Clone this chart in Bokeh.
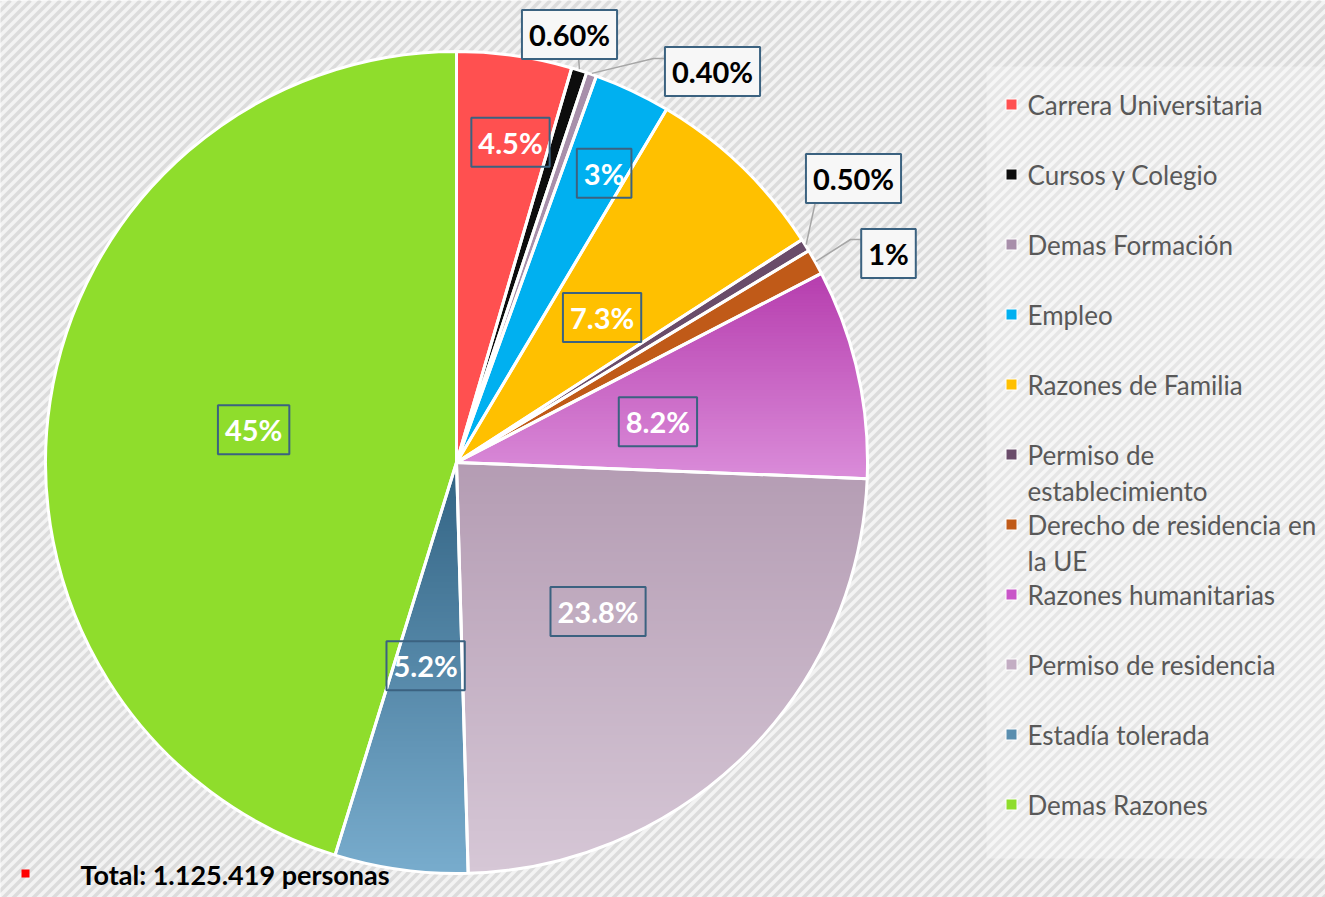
import math
from bokeh.plotting import figure
from bokeh.models import Range1d, Label
from bokeh.embed import file_html
from bokeh.resources import INLINE
from bokeh.core.properties import value

# ---------------- data ----------------
categories = ["Carrera Universitaria", "Cursos y Colegio", "Demas Formación", "Empleo",
              "Razones de Familia", "Permiso de establecimiento", "Derecho de residencia en la UE",
              "Razones humanitarias", "Permiso de residencia", "Estadía tolerada", "Demas Razones"]
legend_lines = [["Carrera Universitaria"], ["Cursos y Colegio"], ["Demas Formación"], ["Empleo"],
                ["Razones de Familia"], ["Permiso de", "establecimiento"],
                ["Derecho de residencia en", "la UE"], ["Razones humanitarias"],
                ["Permiso de residencia"], ["Estadía tolerada"], ["Demas Razones"]]
values = [4.5, 0.6, 0.4, 3.0, 7.3, 0.5, 1.0, 8.2, 23.8, 5.2, 45.0]
value_labels = ["4.5%", "0.60%", "0.40%", "3%", "7.3%", "0.50%", "1%", "8.2%", "23.8%", "5.2%", "45%"]
colors = ["#FF5050", "#0D0D0D", "#A88FAA", "#00B0F0", "#FFC000", "#6A4C6A", "#C05A18",
          "#C955C8", "#C3ADC3", "#5A8EAF", "#8FDD2C"]
# gradient (top colour, bottom colour) for the shaded slices
gradients = {7: ("#B63DAE", "#DA8CD9"), 8: ("#B49CB3", "#D6C7D6"), 9: ("#326383", "#78ACCD")}
total_text = "Total: 1.125.419 personas"

# ---------------- layout ----------------
W, H = 1325, 897
def Y(sy):  # screen y (from top) -> data y
    return H - sy

CX, CY, R = 456, Y(462), 411
label_frac = [0.79, None, None, 0.79, 0.5, None, None, 0.5, 0.5, 0.5, 0.5]
label_rot = [-0.025, 0, 0, -0.03, -0.02, 0, 0, -0.02, -0.02, -0.015, -0.01]  # small angular nudge
outside_pos = {1: (569, Y(34)), 2: (712, Y(71)), 5: (853, Y(178)), 6: (888, Y(253))}
outside_attach = {1: [(578, Y(57))], 2: [(653, Y(58)), (664, Y(58))],
                  5: [(815, Y(201))], 6: [(850, Y(239)), (861, Y(239))]}

p = figure(width=W, height=H, output_backend="svg", toolbar_location=None,
           x_range=Range1d(0, W), y_range=Range1d(0, H),
           min_border=0, border_fill_color="#f3f3f3", outline_line_color=None)
p.axis.visible = False
p.grid.visible = False
p.background_fill_color = "#f3f3f3"

# diagonal stripes background
cs = list(range(0, W + H + 10, 10))
p.segment(x0=cs, y0=[H] * len(cs), x1=[c - (W + H) for c in cs], y1=[H - (W + H)] * len(cs),
          line_color="#dcdcdc", line_width=3.5)
# lighter legend panel
p.quad(left=[986], right=[W], bottom=[Y(858)], top=[Y(66)], fill_color="white",
       fill_alpha=0.3, line_color=None)

total = sum(values)
starts, ends, mids = [], [], []
cum = 0.0
for v in values:
    a0 = math.pi / 2 - (cum + v) / total * 2 * math.pi
    a1 = math.pi / 2 - cum / total * 2 * math.pi
    starts.append(a0); ends.append(a1); mids.append((a0 + a1) / 2)
    cum += v

p.wedge(x=[CX] * len(values), y=[CY] * len(values), radius=R, start_angle=starts,
        end_angle=ends, fill_color=colors, line_color=None)

# gradient shading for selected slices (horizontal bands clipped to the wedge)
def hex2rgb(h):
    return tuple(int(h[k:k + 2], 16) for k in (1, 3, 5))

def clip(poly, yv, keep_above):
    out = []
    n = len(poly)
    for k in range(n):
        a, b = poly[k], poly[(k + 1) % n]
        ina = (a[1] >= yv) if keep_above else (a[1] <= yv)
        inb = (b[1] >= yv) if keep_above else (b[1] <= yv)
        if ina:
            out.append(a)
        if ina != inb:
            t = (yv - a[1]) / (b[1] - a[1])
            out.append((a[0] + t * (b[0] - a[0]), yv))
    return out

bx, by, bc = [], [], []
for i, (top_c, bot_c) in gradients.items():
    n = 80
    poly = [(CX, CY)] + [(CX + R * math.cos(starts[i] + (ends[i] - starts[i]) * k / n),
                          CY + R * math.sin(starts[i] + (ends[i] - starts[i]) * k / n))
                         for k in range(n + 1)]
    ymax = max(q[1] for q in poly); ymin = min(q[1] for q in poly)
    c1, c2 = hex2rgb(top_c), hex2rgb(bot_c)
    step = 3.0
    yv = ymax
    while yv > ymin:
        y_lo = max(ymin, yv - step)
        band = clip(clip(poly, y_lo, True), yv + 0.6, False)
        if len(band) >= 3:
            t = (ymax - (yv + y_lo) / 2) / (ymax - ymin)
            col = "#%02x%02x%02x" % tuple(int(round(c1[k] + t * (c2[k] - c1[k]))) for k in range(3))
            bx.append([q[0] for q in band]); by.append([q[1] for q in band]); bc.append(col)
        yv -= step
p.patches(xs=bx, ys=by, fill_color=bc, line_color=None)

# white separators
p.wedge(x=[CX] * len(values), y=[CY] * len(values), radius=R, start_angle=starts,
        end_angle=ends, fill_color=None, line_color="white", line_width=3)

# value labels
for i, (lab, m) in enumerate(zip(value_labels, mids)):
    common = dict(text=lab, text_align="center", text_baseline="middle", text_font="Lato",
                  text_font_style="bold", text_font_size="29px", border_line_color="#3B6280",
                  border_line_width=2, padding=7)
    if label_frac[i] is not None:
        a = m + label_rot[i]
        x = CX + label_frac[i] * R * math.cos(a)
        y = CY + label_frac[i] * R * math.sin(a)
        p.add_layout(Label(x=x, y=y, text_color="white", **common))
    else:
        x, y = outside_pos[i]
        ex = CX + (R + 1) * math.cos(m)
        ey = CY + (R + 1) * math.sin(m)
        pts = [(ex, ey)] + outside_attach[i]
        p.line([q[0] for q in pts], [q[1] for q in pts], line_color="#A6A6A6", line_width=1.5)
        p.add_layout(Label(x=x, y=y, text_color="black", background_fill_color="#f7f7f7", **common))

# legend
font = value("Lato")
lx, ltx, ly0, lstep, lline = 1011, 1027, 104, 70, 36
sq_x, sq_y, tx, ty, tt = [], [], [], [], []
for i, lines in enumerate(legend_lines):
    yy = ly0 + lstep * i
    sq_x.append(lx); sq_y.append(Y(yy))
    for j, ln in enumerate(lines):
        tx.append(ltx); ty.append(Y(yy + j * lline)); tt.append(ln)
p.scatter(x=sq_x, y=sq_y, marker="square", size=11, fill_color=colors, line_color="white",
          line_width=1)
p.text(x=tx, y=ty, text=tt, text_font=font, text_font_size="26px", text_color="#595959",
       text_baseline="middle", text_align="left")

# total note
p.scatter(x=[25], y=[Y(873)], marker="square", size=8, fill_color="#FF0000", line_color=None)
p.text(x=[80], y=[Y(874)], text=[total_text], text_font=font, text_font_size="27px",
       text_font_style="bold", text_color="black", text_baseline="middle", text_align="left")

open("out.html", "w").write(file_html(p, INLINE))
